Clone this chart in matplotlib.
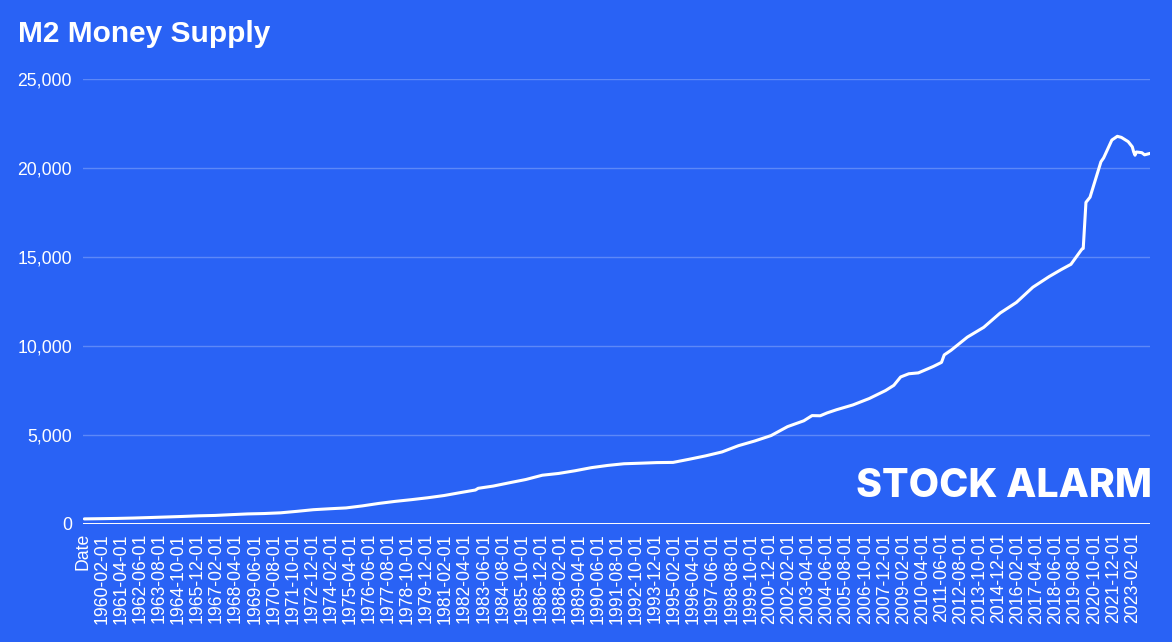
import matplotlib
matplotlib.use("Agg")
import matplotlib.pyplot as plt
import pandas as pd
from matplotlib.ticker import FuncFormatter

# ---- data -------------------------------------------------------------
# category axis: a header cell "Date" followed by monthly dates
months = pd.date_range("1959-01-01", "2024-03-01", freq="MS").strftime("%Y-%m-%d").tolist()
categories = ["Date"] + months

# M2 money supply (billions of USD) at selected months
obs_dates = [
    "1959-01-01", "1960-01-01", "1961-01-01", "1962-01-01", "1963-01-01", "1964-01-01",
    "1965-01-01", "1966-01-01", "1967-01-01", "1968-01-01", "1969-01-01", "1970-01-01",
    "1971-01-01", "1972-01-01", "1973-01-01", "1974-01-01", "1975-01-01", "1976-01-01",
    "1977-01-01", "1978-01-01", "1979-01-01", "1980-01-01", "1981-01-01", "1982-01-01",
    "1982-12-01", "1983-02-01", "1984-01-01", "1985-01-01", "1986-01-01", "1987-01-01",
    "1988-01-01", "1989-01-01", "1990-01-01", "1991-01-01", "1992-01-01", "1993-01-01",
    "1994-01-01", "1995-01-01", "1996-01-01", "1997-01-01", "1998-01-01", "1999-01-01",
    "2000-01-01", "2001-01-01", "2002-01-01", "2003-01-01", "2003-07-01", "2004-01-01",
    "2004-06-01", "2005-01-01", "2006-01-01", "2007-01-01", "2008-01-01", "2008-07-01",
    "2008-12-01", "2009-06-01", "2010-01-01", "2010-12-01", "2011-06-01", "2011-08-01",
    "2012-01-01", "2013-01-01", "2014-01-01", "2015-01-01", "2016-01-01", "2017-01-01",
    "2018-01-01", "2018-10-01", "2019-05-01", "2020-01-01", "2020-02-01", "2020-04-01",
    "2020-07-01", "2021-03-01", "2021-05-01", "2021-11-01", "2022-03-01", "2022-06-01",
    "2022-11-01", "2023-02-01", "2023-03-01", "2023-04-01", "2023-05-01", "2023-09-01",
    "2023-11-01", "2024-03-01",
]
m2_values = [
    287, 299, 313, 335, 363, 393,
    424, 460, 481, 526, 567, 588,
    628, 711, 803, 856, 903, 1017,
    1155, 1270, 1367, 1474, 1600, 1765,
    1910, 2005, 2130, 2318, 2500, 2740,
    2840, 2990, 3165, 3290, 3385, 3415,
    3450, 3460, 3640, 3830, 4050, 4400,
    4665, 4970, 5470, 5800, 6090, 6080,
    6240, 6420, 6690, 7050, 7500, 7790,
    8260, 8440, 8490, 8850, 9080, 9500,
    9760, 10500, 11050, 11850, 12450, 13300,
    13900, 14300, 14590, 15440, 15480, 18070,
    18360, 20350, 20570, 21570, 21780, 21720,
    21480, 21190, 20910, 20720, 20900, 20860,
    20740, 20820,
]

y_ticks = [0, 5000, 10000, 15000, 20000, 25000]
label_step = 14

# ---- style ------------------------------------------------------------
BG = "#2962F5"
GRID = "#5D88F7"
WHITE = "#FFFFFF"

fig = plt.figure(figsize=(11.72, 6.42), dpi=100, facecolor=BG)
W, H = 1172, 642
ax = fig.add_axes([83 / W, 1 - 524 / H, (1150 - 83) / W, (524 - 79) / H])
ax.set_facecolor(BG)

pos = {c: i for i, c in enumerate(categories)}
xs = [pos[d] for d in obs_dates]
ax.plot(xs, m2_values, color=WHITE, lw=2.2, solid_joinstyle="round",
        solid_capstyle="round", zorder=3)

ax.set_xlim(0, len(categories) - 1)
ax.set_ylim(y_ticks[0], y_ticks[-1])
ax.set_yticks(y_ticks)
ax.yaxis.set_major_formatter(FuncFormatter(lambda v, p: f"{int(v):,}"))
for t in y_ticks[1:]:
    ax.axhline(t, color=GRID, lw=1.0, zorder=1)
ax.axhline(0, color=WHITE, lw=1.4, zorder=2)

tick_idx = list(range(0, len(categories), label_step))
ax.set_xticks(tick_idx)
ax.set_xticklabels([categories[i] for i in tick_idx], rotation=90)

for s in ax.spines.values():
    s.set_visible(False)
ax.tick_params(axis="both", length=0, colors=WHITE, labelsize=12.7)
ax.tick_params(axis="y", pad=8)
ax.tick_params(axis="x", pad=6.5)
for lab in ax.get_xticklabels() + ax.get_yticklabels():
    lab.set_fontfamily("Liberation Sans")

fig.text(18 / W, 1 - 41.5 / H, "M2 Money Supply", color=WHITE, fontsize=21.5,
         fontweight="bold", family="Liberation Sans", ha="left", va="baseline")
fig.text(1152 / W, 1 - 497 / H, "STOCK ALARM", color=WHITE, fontsize=28.3,
         fontweight="heavy", family="Inter", ha="right", va="baseline")

fig.savefig("out.png", dpi=100, facecolor=BG)
